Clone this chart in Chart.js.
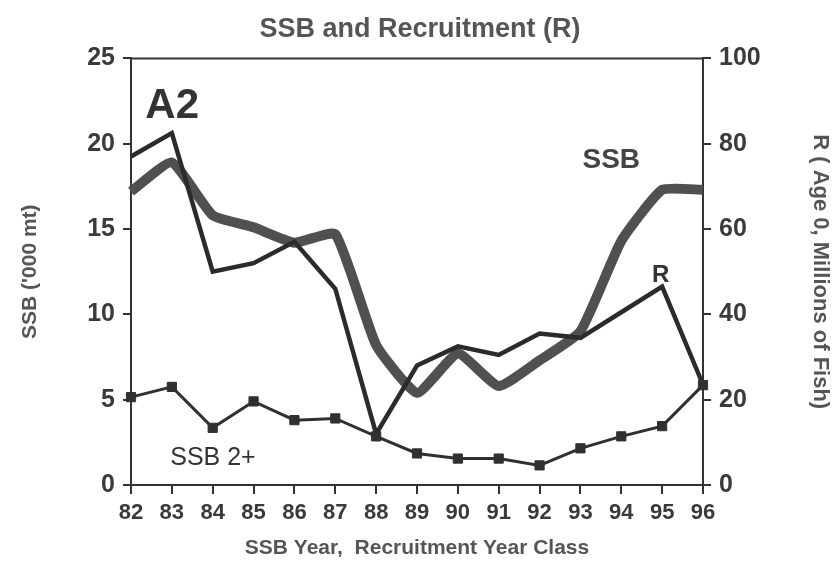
<!DOCTYPE html>
<html lang="en">
<head>
    <meta charset="UTF-8">
    <title>SSB and Recruitment (R)</title>
    <script src="https://cdn.jsdelivr.net/npm/chart.js"></script>
    <style>
        * {
            margin: 0;
            padding: 0;
            box-sizing: border-box;
        }

        body {
            background: #ffffff;
            width: 840px;
            height: 571px;
            overflow: hidden;
        }

        .chart-box {
            position: relative;
            width: 840px;
            height: 571px;
        }
    </style>
</head>
<body>
    <div class="chart-box">
        <canvas id="ssb-chart" width="840" height="571"></canvas>
    </div>

    <script>
        // values
        const years = ['82', '83', '84', '85', '86', '87', '88', '89', '90', '91', '92', '93', '94', '95', '96'];
        const ssb = [17.2, 18.9, 15.8, 15.1, 14.2, 14.7, 8.2, 5.4, 7.7, 5.8, 7.3, 9.0, 14.3, 17.3, 17.3];
        const recruitment = [77, 82.5, 50, 52, 57, 46, 12, 28, 32.5, 30.5, 35.5, 34.5, 40.5, 46.5, 23.5];
        const ssb2plus = [5.15, 5.75, 3.35, 4.9, 3.8, 3.9, 2.85, 1.85, 1.55, 1.55, 1.15, 2.15, 2.85, 3.45, 5.85];
        const ssbTicks = [0, 5, 10, 15, 20, 25];
        const rTicks = [0, 20, 40, 60, 80, 100];

        // text labels inside the plot, placed in data units (category index, SSB value)
        const notes = [
            { text: 'A2', x: 0.35, y: 21.5, font: 'bold 42px "Liberation Sans", Arial', color: '#333' },
            { text: 'SSB', x: 11.05, y: 18.6, font: 'bold 28px "Liberation Sans", Arial', color: '#444' },
            { text: 'R', x: 12.75, y: 11.9, font: 'bold 24px "Liberation Sans", Arial', color: '#333' },
            { text: 'SSB 2+', x: 0.96, y: 1.17, font: '25px "Liberation Sans", Arial', color: '#333' }
        ];

        const FONT = '"Liberation Sans", Arial, sans-serif';
        const INK = '#333333';

        const frameAndNotes = {
            id: 'frameAndNotes',
            afterDatasetsDraw(chart) {
                const { ctx, chartArea } = chart;
                const xs = chart.scales.x;
                const ys = chart.scales.ySSB;
                ctx.save();
                // top border of the plot box
                ctx.strokeStyle = INK;
                ctx.lineWidth = 2;
                ctx.beginPath();
                ctx.moveTo(chartArea.left, chartArea.top);
                ctx.lineTo(chartArea.right, chartArea.top);
                ctx.stroke();

                ctx.textAlign = 'left';
                ctx.textBaseline = 'alphabetic';
                notes.forEach(n => {
                    ctx.font = n.font;
                    ctx.fillStyle = n.color;
                    ctx.fillText(n.text, xs.getPixelForValue(n.x), ys.getPixelForValue(n.y));
                });
                ctx.restore();
            }
        };

        const ctx = document.getElementById('ssb-chart').getContext('2d');

        new Chart(ctx, {
            type: 'line',
            data: {
                labels: years,
                datasets: [
                    {
                        label: 'SSB',
                        data: ssb,
                        yAxisID: 'ySSB',
                        borderColor: '#505050',
                        borderWidth: 10,
                        pointRadius: 0,
                        tension: 0.15,
                        borderJoinStyle: 'round',
                        order: 3
                    },
                    {
                        label: 'R',
                        data: recruitment,
                        yAxisID: 'yR',
                        borderColor: '#2b2b2b',
                        borderWidth: 4.5,
                        pointRadius: 0,
                        tension: 0,
                        order: 2
                    },
                    {
                        label: 'SSB 2+',
                        data: ssb2plus,
                        yAxisID: 'ySSB',
                        borderColor: '#303030',
                        borderWidth: 3,
                        pointStyle: 'rect',
                        pointRadius: 6.5,
                        pointBackgroundColor: '#303030',
                        pointBorderColor: '#303030',
                        pointBorderWidth: 1,
                        tension: 0,
                        order: 1
                    }
                ]
            },
            options: {
                responsive: false,
                animation: false,
                devicePixelRatio: 1,
                layout: { padding: 0 },
                plugins: {
                    legend: { display: false },
                    tooltip: { enabled: false },
                    title: {
                        display: true,
                        text: 'SSB and Recruitment (R)',
                        color: '#555555',
                        font: { family: FONT, size: 27, weight: 'bold', lineHeight: 1.2 },
                        padding: { top: 13, bottom: 13 }
                    }
                },
                scales: {
                    x: {
                        offset: false,
                        grid: { drawOnChartArea: false, tickLength: 9, color: INK, lineWidth: 2 },
                        border: { display: true, color: INK, width: 2 },
                        ticks: {
                            color: '#3a3a3a',
                            padding: 6,
                            maxRotation: 0,
                            autoSkip: false,
                            font: { family: FONT, size: 22, weight: 'bold' }
                        },
                        title: {
                            display: true,
                            text: 'SSB Year,  Recruitment Year Class',
                            color: '#555555',
                            font: { family: FONT, size: 21, weight: 'bold', lineHeight: 1.2 },
                            padding: { top: 0, bottom: 10 }
                        },
                        afterFit(scale) { scale.height = 86; }
                    },
                    ySSB: {
                        position: 'left',
                        min: 0,
                        max: 25,
                        afterBuildTicks(scale) { scale.ticks = ssbTicks.map(v => ({ value: v })); },
                        grid: { drawOnChartArea: false, tickLength: 8, color: INK, lineWidth: 2 },
                        border: { display: true, color: INK, width: 2 },
                        ticks: {
                            color: '#3a3a3a',
                            padding: 8,
                            font: { family: FONT, size: 25, weight: 'bold' }
                        },
                        title: {
                            display: true,
                            text: "SSB ('000 mt)",
                            color: '#555555',
                            font: { family: FONT, size: 21, weight: 'bold', lineHeight: 1.2 },
                            padding: { top: 18, bottom: 0 }
                        },
                        afterFit(scale) { scale.width = 131; }
                    },
                    yR: {
                        position: 'right',
                        min: 0,
                        max: 100,
                        afterBuildTicks(scale) { scale.ticks = rTicks.map(v => ({ value: v })); },
                        grid: { drawOnChartArea: false, tickLength: 8, color: INK, lineWidth: 2 },
                        border: { display: true, color: INK, width: 2 },
                        ticks: {
                            color: '#3a3a3a',
                            padding: 8,
                            font: { family: FONT, size: 25, weight: 'bold' }
                        },
                        title: {
                            display: true,
                            text: 'R ( Age 0, Millions of Fish)',
                            color: '#555555',
                            font: { family: FONT, size: 22, weight: 'bold', lineHeight: 1.2 },
                            padding: { top: 7, bottom: 0 }
                        },
                        afterFit(scale) { scale.width = 137; }
                    }
                }
            },
            plugins: [frameAndNotes]
        });
    </script>
</body>
</html>
